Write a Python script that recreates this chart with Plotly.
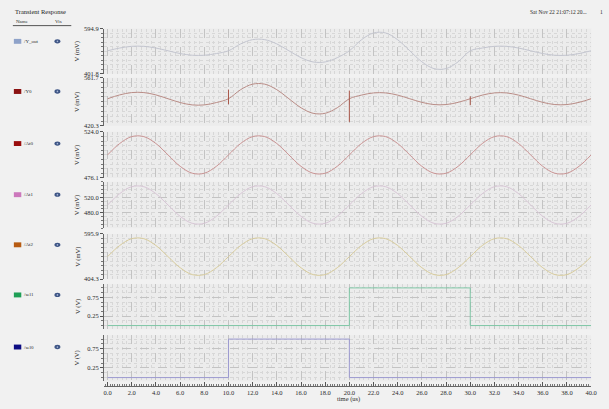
import plotly.graph_objects as go

W, H = 609, 409

# ---------------- data ----------------
time_us = list(range(41))

y_out_mv = [500.0, 511.8, 519.0, 519.0, 511.8, 500.0, 488.2, 481.0, 481.0, 488.2,
            500.0, 529.4, 547.6, 547.6, 529.4, 500.0, 470.6, 452.4, 452.4, 470.6,
            500.0, 547.0, 576.1, 576.1, 547.0, 500.0, 453.0, 423.9, 423.9, 453.0,
            500.0, 511.8, 519.0, 519.0, 511.8, 500.0, 488.2, 481.0, 481.0, 488.2,
            500.0]

y0_mv = [500.0, 511.2, 518.1, 518.1, 511.2, 500.0, 488.8, 481.9, 481.9, 488.8,
         500.0, 526.5, 542.8, 542.8, 526.5, 500.0, 473.5, 457.2, 457.2, 473.5,
         500.0, 510.6, 517.1, 517.1, 510.6, 500.0, 489.4, 482.9, 482.9, 489.4,
         500.0, 510.6, 517.1, 517.1, 510.6, 500.0, 489.4, 482.9, 482.9, 489.4,
         500.0]

at0_mv = [500.0, 511.8, 519.0, 519.0, 511.8, 500.0, 488.2, 481.0, 481.0, 488.2,
          500.0, 511.8, 519.0, 519.0, 511.8, 500.0, 488.2, 481.0, 481.0, 488.2,
          500.0, 511.8, 519.0, 519.0, 511.8, 500.0, 488.2, 481.0, 481.0, 488.2,
          500.0, 511.8, 519.0, 519.0, 511.8, 500.0, 488.2, 481.0, 481.0, 488.2,
          500.0]

at1_mv = [500.0, 529.4, 547.6, 547.6, 529.4, 500.0, 470.6, 452.4, 452.4, 470.6,
          500.0, 529.4, 547.6, 547.6, 529.4, 500.0, 470.6, 452.4, 452.4, 470.6,
          500.0, 529.4, 547.6, 547.6, 529.4, 500.0, 470.6, 452.4, 452.4, 470.6,
          500.0, 529.4, 547.6, 547.6, 529.4, 500.0, 470.6, 452.4, 452.4, 470.6,
          500.0]

at2_mv = [500.0, 547.0, 576.1, 576.1, 547.0, 500.0, 453.0, 423.9, 423.9, 453.0,
          500.0, 547.0, 576.1, 576.1, 547.0, 500.0, 453.0, 423.9, 423.9, 453.0,
          500.0, 547.0, 576.1, 576.1, 547.0, 500.0, 453.0, 423.9, 423.9, 453.0,
          500.0, 547.0, 576.1, 576.1, 547.0, 500.0, 453.0, 423.9, 423.9, 453.0,
          500.0]

glitch_t_us = [10, 20, 30]
glitch_hi_mv = [527.0, 524.0, 507.0]
glitch_lo_mv = [484.0, 432.0, 481.0]

sel_t_us = [0, 10, 20, 30, 40]
sel1_v = [0, 0, 1, 0, 0]
sel0_v = [0, 1, 0, 0, 0]

signal_names = ["/Y_out", "/Y0", "/At0", "/At1", "/At2", "/sel1", "/sel0"]

x_tick_values = [0, 2, 4, 6, 8, 10, 12, 14, 16, 18, 20, 22, 24, 26, 28, 30, 32, 34, 36, 38, 40]
x_tick_labels = ["0.0", "2.0", "4.0", "6.0", "8.0", "10.0", "12.0", "14.0", "16.0", "18.0", "20.0",
                 "22.0", "24.0", "26.0", "28.0", "30.0", "32.0", "34.0", "36.0", "38.0", "40.0"]

y_ranges = [[401.8, 594.9], [420.3, 561.7], [476.1, 524.0], [440.0, 560.0],
            [404.3, 595.9], [-0.1, 1.1], [-0.1, 1.1]]
y_tick_values = [[401.8, 594.9], [420.3, 561.7], [476.1, 524.0], [480.0, 520.0],
                 [404.3, 595.9], [0.25, 0.75], [0.25, 0.75]]
y_tick_labels = [["401.8", "594.9"], ["420.3", "561.7"], ["476.1", "524.0"], ["480.0", "520.0"],
                 ["404.3", "595.9"], ["0.25", "0.75"], ["0.25", "0.75"]]
y_units = ["V (mV)", "V (mV)", "V (mV)", "V (mV)", "V (mV)", "V (V)", "V (V)"]

# ---------------- styling ----------------
FONT = "Liberation Serif"
TXT = "#2a2a2a"
panel_px = [(25, 71), (75, 124), (130, 177), (181, 228), (234, 280), (285, 331), (337, 384)]
legend_y_px = [38, 89, 142, 194, 245, 296, 349]
line_colors = ["#c3c5cf", "#b98c86", "#c99393", "#d8c6d6", "#d7cb9b", "#7fc7a6", "#9c9ad0"]
swatch_colors = ["#8ea2c9", "#8b1212", "#9a0d0d", "#cc78bc", "#b75b12", "#1f9f56", "#0c0c82"]
XD = [105 / W, 597 / W]
XR = [-0.3, 40]


def ydom(top, bot):
    return [1 - bot / H, 1 - top / H]


fig = go.Figure()

series = [
    (time_us, y_out_mv, "spline"),
    (time_us, y0_mv, "spline"),
    (time_us, at0_mv, "spline"),
    (time_us, at1_mv, "spline"),
    (time_us, at2_mv, "spline"),
    (sel_t_us, sel1_v, "hv"),
    (sel_t_us, sel0_v, "hv"),
]

for i, (tx, vy, shape) in enumerate(series):
    n = i + 1
    fig.add_trace(go.Scatter(
        x=tx, y=vy, mode="lines", name=signal_names[i],
        line=dict(color=line_colors[i], width=1, shape=shape, smoothing=1.0),
        xaxis=f"x{n}", yaxis=f"y{n}", showlegend=False, hoverinfo="skip"))

# glitches on /Y0
gx, gy = [], []
for tt, hi, lo in zip(glitch_t_us, glitch_hi_mv, glitch_lo_mv):
    gx += [tt, tt, None]
    gy += [hi, lo, None]
fig.add_trace(go.Scatter(x=gx, y=gy, mode="lines", line=dict(color="#a8574a", width=1),
                         xaxis="x2", yaxis="y2", showlegend=False, hoverinfo="skip"))

# dummy for the bottom time axis
fig.add_trace(go.Scatter(x=[0, 40], y=[None, None], mode="lines", xaxis="x8", yaxis="y8",
                         showlegend=False, hoverinfo="skip"))

layout = dict(
    width=W, height=H, margin=dict(l=0, r=0, t=0, b=0),
    paper_bgcolor="#f1f1f1", plot_bgcolor="#ececec",
    font=dict(family=FONT, size=6.5, color=TXT),
    showlegend=False,
)

for i in range(7):
    n = i + 1
    top, bot = panel_px[i]
    lo, hi = y_ranges[i]
    tv = y_tick_values[i]
    if i in (5, 6):
        minor_vals = [k * 0.125 for k in range(0, 9)]
    elif i == 3:
        minor_vals = [440 + 10 * k for k in range(13)]
    else:
        minor_vals = [lo + (hi - lo) * k / 10 for k in range(11)]
    layout[f"xaxis{n}"] = dict(
        domain=XD, range=XR, anchor=f"y{n}", showticklabels=False, ticks="",
        showgrid=True, tick0=0, dtick=2, gridcolor="#c3c3c3", griddash="dash", gridwidth=1,
        minor=dict(dtick=0.4, tick0=0, showgrid=True, gridcolor="#d7d7d7", griddash="dot", gridwidth=1),
        zeroline=False, showline=False, fixedrange=True)
    layout[f"yaxis{n}"] = dict(
        domain=ydom(top, bot), range=[lo, hi], anchor=f"x{n}",
        tickmode="array", tickvals=tv, ticktext=y_tick_labels[i],
        ticks="outside", ticklen=3, tickwidth=1, tickcolor="#555",
        tickfont=dict(family=FONT, size=6.5, color=TXT),
        showline=True, linecolor="#666", linewidth=1, mirror=False,
        showgrid=True, gridcolor="#c3c3c3", griddash="dash", gridwidth=1,
        minor=dict(tickmode="array", tickvals=minor_vals, ticks="outside", ticklen=2,
                   tickcolor="#777", showgrid=True, gridcolor="#d7d7d7", griddash="dot"),
        zeroline=False, fixedrange=True)

layout["xaxis8"] = dict(
    domain=XD, range=XR, anchor="y8", tickmode="array", tickvals=x_tick_values,
    ticktext=x_tick_labels, ticks="inside", ticklen=4, tickcolor="#555",
    tickfont=dict(family=FONT, size=6.5, color=TXT),
    minor=dict(dtick=0.2, tick0=0, ticks="inside", ticklen=2, tickcolor="#777", showgrid=False),
    showline=True, linecolor="#666", linewidth=1, showgrid=False, zeroline=False, fixedrange=True)
layout["yaxis8"] = dict(domain=[1 - 388.5 / H, 1 - 388 / H], anchor="x8", visible=False, range=[0, 1])

fig.update_layout(**layout)

ann = []
shapes = []


def px(xp):
    return xp / W


def py(yp):
    return 1 - yp / H


# header
ann.append(dict(text="Transient Response", x=px(13), y=py(8), xref="paper", yref="paper",
                xanchor="left", yanchor="middle", showarrow=False,
                font=dict(family=FONT, size=6.5, color="#1a1a1a")))
ann.append(dict(text="Name", x=px(14), y=py(18), xref="paper", yref="paper",
                xanchor="left", yanchor="middle", showarrow=False, font=dict(family=FONT, size=5, color=TXT)))
ann.append(dict(text="Vis", x=px(54), y=py(18), xref="paper", yref="paper",
                xanchor="left", yanchor="middle", showarrow=False, font=dict(family=FONT, size=5, color=TXT)))
shapes.append(dict(type="line", xref="paper", yref="paper", x0=px(13), x1=px(72), y0=py(22), y1=py(22),
                   line=dict(color="#555", width=1)))
ann.append(dict(text="Sat Nov 22 21:07:12 20...", x=px(533), y=py(8), xref="paper", yref="paper",
                xanchor="left", yanchor="middle", showarrow=False, font=dict(family=FONT, size=5.5, color=TXT)))
ann.append(dict(text="1", x=px(604), y=py(8), xref="paper", yref="paper",
                xanchor="left", yanchor="middle", showarrow=False, font=dict(family=FONT, size=5.5, color=TXT)))

# legend rows
for i in range(7):
    yc = legend_y_px[i]
    shapes.append(dict(type="rect", xref="paper", yref="paper", x0=px(14), x1=px(21.5),
                       y0=py(yc + 2.5), y1=py(yc - 2.5), fillcolor=swatch_colors[i], line=dict(width=0)))
    ann.append(dict(text=signal_names[i], x=px(22.5), y=py(yc), xref="paper", yref="paper",
                    xanchor="left", yanchor="middle", showarrow=False,
                    font=dict(family=FONT, size=5, color=TXT)))
    shapes.append(dict(type="circle", xref="paper", yref="paper", x0=px(55), x1=px(61),
                       y0=py(yc + 2.2), y1=py(yc - 2.2), fillcolor="#3e5585", line=dict(width=0)))
    shapes.append(dict(type="circle", xref="paper", yref="paper", x0=px(57.2), x1=px(58.8),
                       y0=py(yc + 0.9), y1=py(yc - 0.9), fillcolor="#a9b8d6", line=dict(width=0)))

# y axis titles
for i in range(7):
    top, bot = panel_px[i]
    ann.append(dict(text=y_units[i], x=px(78), y=py((top + bot) / 2), xref="paper", yref="paper",
                    xanchor="center", yanchor="middle", textangle=-90, showarrow=False,
                    font=dict(family=FONT, size=6.5, color=TXT)))

ann.append(dict(text="time (us)", x=px(352), y=py(402), xref="paper", yref="paper",
                xanchor="center", yanchor="middle", showarrow=False,
                font=dict(family=FONT, size=6.5, color=TXT)))

fig.update_layout(annotations=ann, shapes=shapes)

fig.write_html(
    "out.html",
    config={"displayModeBar": False},
    post_script="document.body.style.margin='0px';document.body.style.background='#f1f1f1';",
)
